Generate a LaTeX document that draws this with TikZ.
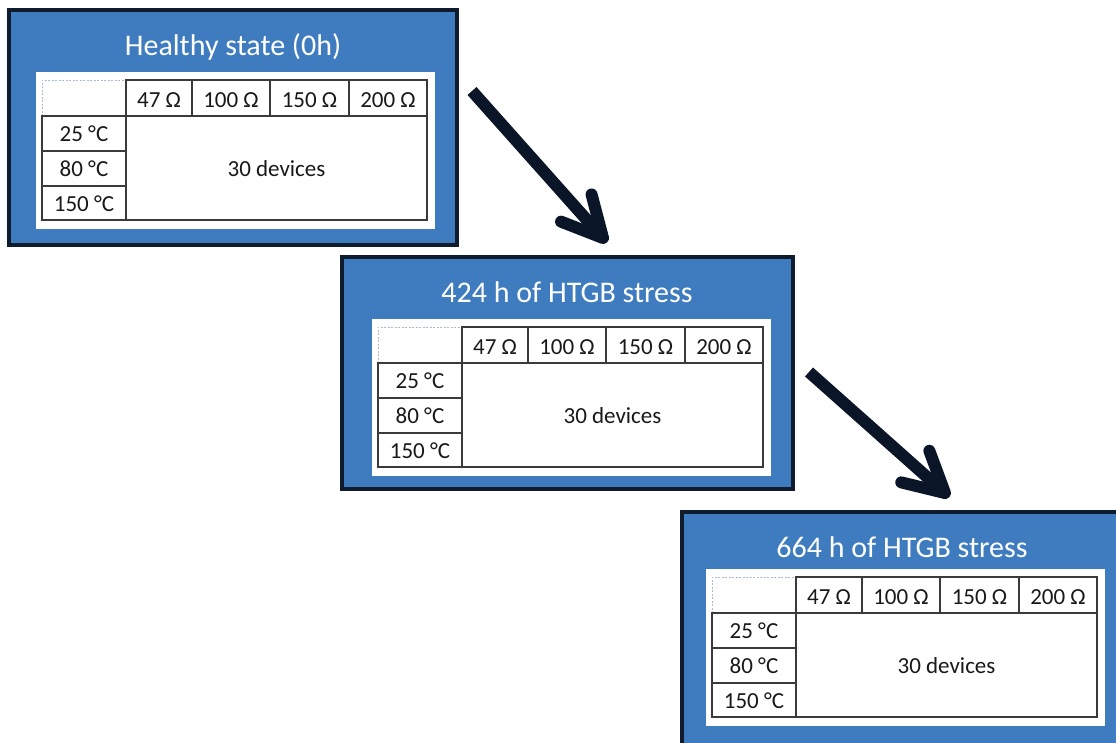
\documentclass[tikz,border=0pt]{standalone}
\usepackage{fontspec}
\setmainfont{Carlito}
\usetikzlibrary{calc}
\definecolor{panelblue}{HTML}{3F7CBF}
\definecolor{panelborder}{HTML}{0F1C2E}
\definecolor{arrowcol}{HTML}{0A1628}
\definecolor{gridcol}{HTML}{3A3A3A}
\definecolor{dashcol}{HTML}{A9BCD4}
\tikzset{
  outerbox/.style={draw=panelborder, fill=panelblue, line width=4pt},
  gridline/.style={draw=gridcol, line width=1.2pt},
  dashedge/.style={draw=dashcol, line width=1pt, dash pattern=on 2pt off 1.5pt},
  cell/.style={font=\fontsize{23}{27}\selectfont, text=black!90, inner sep=0pt, anchor=base},
  titletext/.style={font=\fontsize{30}{36}\selectfont, text=white, inner sep=0pt, anchor=base},
  flowarrow/.style={draw=arrowcol, line width=12pt, line join=round, line cap=round},
}
\newcommand\panelcontent[6]{%
  \node[titletext] (#1-title) at (#5,#6) {#4};
  \begin{scope}[shift={(#2,#3)}]
    \fill[white] (27,62) rectangle (426,219);
    \draw[dashedge] (33,106) -- (33,70) -- (117,70);
    \draw[gridline] (117,70) rectangle (418,210);
    \draw[gridline] (33,106) rectangle (117,210);
    \draw[gridline] (117,106) -- (418,106);
    \draw[gridline] (183,70) -- (183,106);
    \draw[gridline] (261,70) -- (261,106);
    \draw[gridline] (340,70) -- (340,106);
    \draw[gridline] (33,141) -- (117,141);
    \draw[gridline] (33,176) -- (117,176);
    \node[cell] (#1-r47) at (150,97) {47 Ω};
    \node[cell] (#1-r100) at (222,97) {100 Ω};
    \node[cell] (#1-r150) at (300.5,97) {150 Ω};
    \node[cell] (#1-r200) at (379,97) {200 Ω};
    \node[cell] (#1-t25) at (75,131.5) {25 °C};
    \node[cell] (#1-t80) at (75,166.5) {80 °C};
    \node[cell] (#1-t150) at (75,201) {150 °C};
    \node[cell] (#1-dev) at (267.5,166.5) {30 devices};
  \end{scope}}
\begin{document}
\begin{tikzpicture}[x=1pt,y=-1pt]
  \useasboundingbox (0,0) rectangle (1116,742);
  \clip (0,0) rectangle (1116,742);
  \fill[white] (0,0) rectangle (1116,742);
  % panels
  \draw[outerbox] (9,10) rectangle (457,245);
  \panelcontent{p1}{9}{10}{Healthy state (0h)}{233}{55}
  \draw[outerbox] (342,257) rectangle (793,489);
  \panelcontent{p2}{345}{257}{424 h of HTGB stress}{567}{302}
  \draw[outerbox] (682,512) rectangle (1135,750);
  \panelcontent{p3}{679}{507}{664 h of HTGB stress}{902}{557}
  % arrows
  \coordinate (a1s) at (472,91);
  \coordinate (a1e) at (603,238);
  \draw[flowarrow, line cap=butt] (a1s) -- (a1e);
  \draw[flowarrow] ($(a1e)!45pt!27:(a1s)$) -- (a1e) -- ($(a1e)!45pt!-27:(a1s)$);
  \coordinate (a2s) at (809,372);
  \coordinate (a2e) at (945,493);
  \draw[flowarrow, line cap=butt] (a2s) -- (a2e);
  \draw[flowarrow] ($(a2e)!45pt!28:(a2s)$) -- (a2e) -- ($(a2e)!45pt!-28:(a2s)$);
\end{tikzpicture}
\end{document}
